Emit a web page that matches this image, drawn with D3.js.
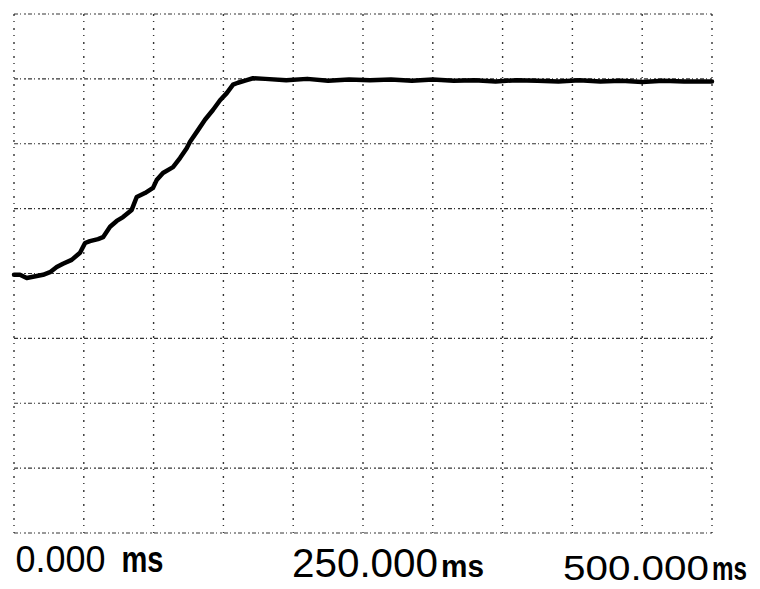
<!DOCTYPE html>
<html>
<head>
<meta charset="utf-8">
<script src="https://cdn.jsdelivr.net/npm/d3@7/dist/d3.min.js"></script>
<style>
  html, body { margin: 0; padding: 0; background: #fff; }
  svg { display: block; }
</style>
</head>
<body>
<svg id="scope" width="760" height="589"></svg>
<script>
// Trace sample times (ms) and levels (vertical divisions above the bottom graticule line)
const timeMs = [0, 4.3, 9.1, 13.6, 20.8, 25.8, 30.6, 35.1, 41.3, 47.3, 50.9, 54.4, 60.2, 63.8,
  68.8, 73.6, 78.1, 84.3, 87.9, 93.8, 99.6, 102.2, 106.7, 113.9, 118.9, 123.7, 126.1, 131.8,
  136.8, 142.5, 147.6, 152.4, 156.9, 160.4, 166.7, 171.2, 180, 195, 210, 225, 240, 255, 270,
  285, 300, 315, 330, 345, 360, 375, 390, 405, 420, 435, 450, 465, 480, 500];
const levelDiv = [3.98, 3.98, 3.93, 3.95, 3.98, 4.02, 4.10, 4.15, 4.21, 4.32, 4.47, 4.50, 4.53, 4.56,
  4.72, 4.81, 4.87, 4.98, 5.18, 5.24, 5.32, 5.44, 5.55, 5.64, 5.78, 5.93, 6.03, 6.21,
  6.37, 6.52, 6.67, 6.78, 6.91, 6.94, 6.98, 7.01, 7.00, 6.98, 7.00, 6.97, 6.99, 6.98, 6.99,
  6.97, 6.99, 6.97, 6.98, 6.96, 6.98, 6.97, 6.96, 6.98, 6.96, 6.97, 6.95, 6.97, 6.96, 6.96];

// Graticule: 10 horizontal and 8 vertical divisions
const timeGrid = [0, 50, 100, 150, 200, 250, 300, 350, 400, 450, 500];
const divGrid = [0, 1, 2, 3, 4, 5, 6, 7, 8];

// Time readouts under the screen
const tickValues = [0, 250, 500];
const tickNumbers = ["0.000", "250.000", "500.000"];
const tickUnits = ["ms", "ms", "ms"];

const svg = d3.select("#scope");
const x = d3.scaleLinear().domain([0, 500]).range([14, 712]);
const y = d3.scaleLinear().domain([0, 8]).range([533, 14]);

// Dotted graticule lines
const grid = svg.append("g").attr("fill", "none").attr("stroke", "#111");
grid.selectAll("line.h").data(divGrid).join("line")
  .attr("class", "h")
  .attr("x1", x(0)).attr("x2", x(500))
  .attr("y1", d => y(d)).attr("y2", d => y(d))
  .attr("stroke-width", 1.2)
  .attr("stroke-dasharray", "4,2,1,3,2,2")
  .attr("opacity", 0.85);
grid.selectAll("line.v").data(timeGrid).join("line")
  .attr("class", "v")
  .attr("y1", y(8)).attr("y2", y(0))
  .attr("x1", d => x(d)).attr("x2", d => x(d))
  .attr("stroke-width", 1.4)
  .attr("stroke-dasharray", "2,5,1,6")
  .attr("opacity", 0.85);

// Trace
const pts = timeMs.map((t, i) => [t, levelDiv[i]]);
const line = d3.line().x(d => x(d[0])).y(d => y(d[1])).curve(d3.curveLinear);
svg.append("path")
  .datum(pts)
  .attr("d", line)
  .attr("fill", "none")
  .attr("stroke", "#000")
  .attr("stroke-width", 4.5)
  .attr("stroke-linejoin", "round")
  .attr("stroke-linecap", "round");

// Readout labels
const labelStyle = [
  { dx: 1.5,  base: 572, numSize: 36, numLen: 90,  gap: 16, unitSize: 36, unitLen: 42 },
  { dx: -71,  base: 577, numSize: 40, numLen: 146, gap: 3,  unitSize: 31, unitLen: 43 },
  { dx: -149, base: 580, numSize: 35, numLen: 146, gap: 3,  unitSize: 33, unitLen: 35 }
];
const fontFamily = "'Liberation Sans', Arial, Helvetica, sans-serif";
tickValues.forEach((v, i) => {
  const s = labelStyle[i];
  const x0 = x(v) + s.dx;
  svg.append("text")
    .attr("x", x0).attr("y", s.base)
    .attr("font-family", fontFamily)
    .attr("font-size", s.numSize)
    .attr("textLength", s.numLen)
    .attr("lengthAdjust", "spacingAndGlyphs")
    .attr("fill", "#000")
    .text(tickNumbers[i]);
  svg.append("text")
    .attr("x", x0 + s.numLen + s.gap).attr("y", s.base)
    .attr("font-family", fontFamily)
    .attr("font-weight", "bold")
    .attr("font-size", s.unitSize)
    .attr("textLength", s.unitLen)
    .attr("lengthAdjust", "spacingAndGlyphs")
    .attr("fill", "#000")
    .text(tickUnits[i]);
});
</script>
</body>
</html>
